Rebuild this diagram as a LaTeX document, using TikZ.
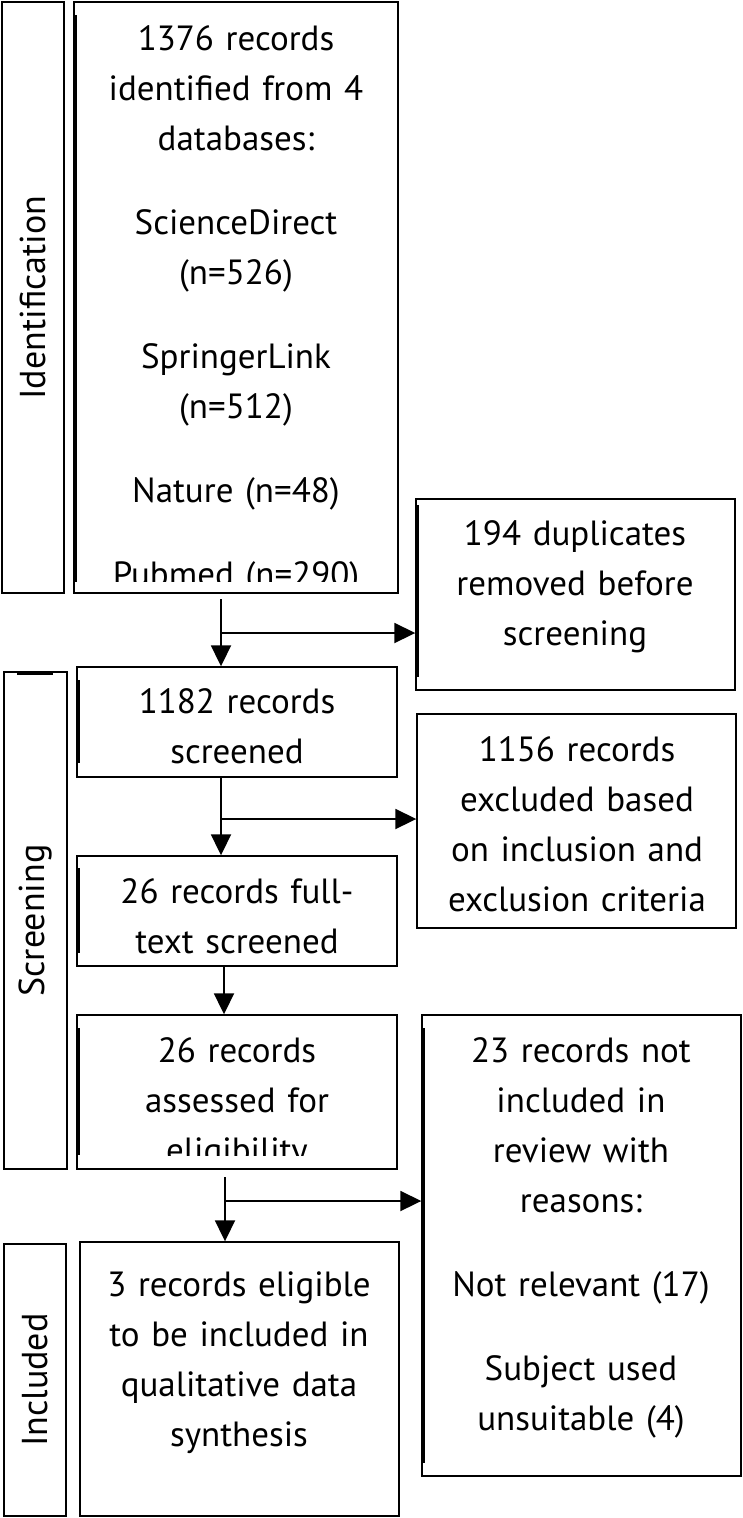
\documentclass[tikz,border=0pt]{standalone}
\usepackage{fontspec}
\setmainfont{PT Sans}
\usetikzlibrary{calc,arrows.meta,fit}

\tikzset{
  box/.style={draw, line width=1.4pt, inner sep=0pt},
  lbl/.style={rotate=90, inner sep=0pt, font=\fontsize{36}{50}\selectfont},
  txt/.style={text width=340pt, align=center, anchor=base, inner sep=0pt,
    font=\fontsize{35}{50}\selectfont},
  arr/.style={line width=1.9pt, -{Triangle[length=21pt,width=20pt]}},
  rough/.style={line width=1.8pt},
}

\begin{document}
\begin{tikzpicture}[x=1pt,y=-1pt]
\useasboundingbox (0,0) rectangle (743,1518);
\def\gap{34pt}

% phase labels
\node[box, fit={(2,2) (64,593)}] (idl) {};
\node[box, fit={(4,672) (67,1169)}] (scl) {};
\node[box, fit={(4,1244) (66,1516)}] (inl) {};
\node[lbl] (idt) at (idl.center) {Identification};
\node[lbl] (sct) at (scl.center) {Screening};
\node[lbl] (int) at (inl.center) {Included};

% main column
\node[box, fit={(74,2) (398,593)}] (rec) {};
\node[box, fit={(77,667) (397,777)}] (scr) {};
\node[box, fit={(77,856) (397,966)}] (ful) {};
\node[box, fit={(77,1015) (397,1169)}] (ass) {};
\node[box, fit={(80,1242) (399,1516)}] (inc) {};

% right column
\node[box, fit={(416,499) (735,690)}] (dup) {};
\node[box, fit={(417,714) (736,928)}] (exc) {};
\node[box, fit={(422,1015) (741,1476)}] (rea) {};

% texts
\begin{scope}
  \clip (74,2) rectangle (398,581);
  \node[txt] (rect) at (236,50) {1376 records\\identified from 4\\databases:\\[\gap]
    ScienceDirect\\(n=526)\\[\gap]SpringerLink\\(n=512)\\[\gap]Nature (n=48)\\[\gap]
    Pubmed (n=290)};
\end{scope}
\node[txt] (dupt) at (575,545) {194 duplicates\\removed before\\screening};
\node[txt] (scrt) at (237,713) {1182 records\\screened};
\node[txt] (exct) at (577,761) {1156 records\\excluded based\\on inclusion and\\exclusion criteria};
\node[txt] (fult) at (237,903) {26 records full-\\text screened};
\begin{scope}
  \clip (77,1015) rectangle (397,1155);
  \node[txt] (asst) at (237,1062) {26 records\\assessed for\\eligibility};
\end{scope}
\node[txt] (reat) at (581,1062) {23 records not\\included in\\review with\\reasons:\\[\gap]
  Not relevant (17)\\[\gap]Subject used\\unsuitable (4)};
\node[txt] (inct) at (239,1296) {3 records eligible\\to be included in\\qualitative data\\synthesis};

% connectors
\coordinate (a1) at (221,599);
\coordinate (b1) at (221,633);
\draw[arr] (a1) -- (a1 |- scr.north);
\draw[arr] (b1) -- (b1 -| dup.west);

\coordinate (a2) at (221,777);
\coordinate (b2) at (221,819);
\draw[arr] (a2) -- (a2 |- ful.north);
\draw[arr] (b2) -- (b2 -| exc.west);

\coordinate (a3) at (224,966);
\draw[arr] (a3) -- (a3 |- ass.north);

\coordinate (a4) at (225,1177);
\coordinate (b4) at (225,1201);
\draw[arr] (a4) -- (a4 |- inc.north);
\draw[arr] (b4) -- (b4 -| rea.west);

% rough edges
\draw[rough] (76,15) -- (76,582);
\draw[rough] (418,505) -- (418,677);
\draw[rough] (79,680) -- (79,763);
\draw[rough] (79,868) -- (79,953);
\draw[rough] (79,1028) -- (79,1155);
\draw[rough] (424,1028) -- (424,1463);
\draw[line width=3pt] (17,673) -- (53,673);
\end{tikzpicture}
\end{document}
